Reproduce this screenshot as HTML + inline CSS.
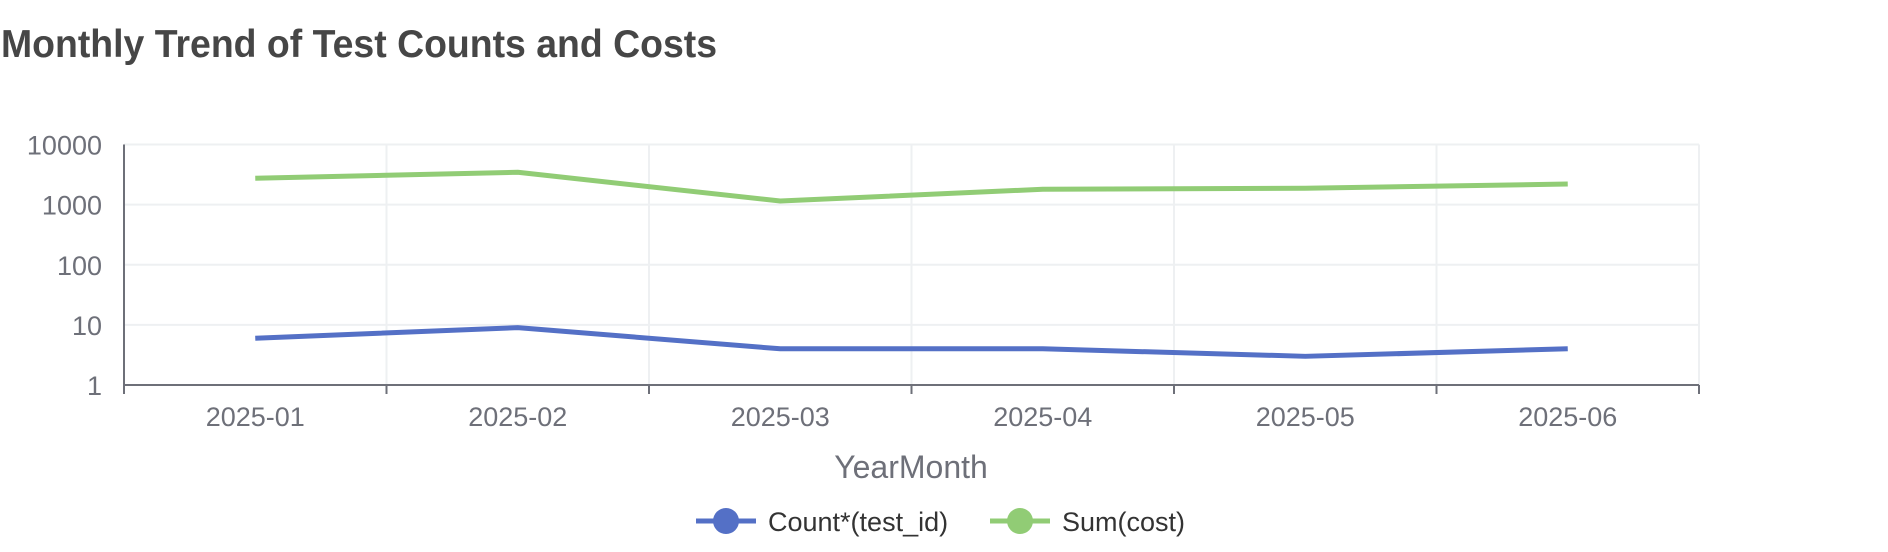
<!DOCTYPE html>
<html><head><meta charset="utf-8"><style>
body{margin:0;background:#fff;}
svg{display:block;font-family:"Liberation Sans",sans-serif;}
</style></head><body>
<svg id="chart" width="1888" height="552" viewBox="0 0 1888 552">
<text x="1" y="57" font-size="39" font-weight="bold" fill="#464646" textLength="716" lengthAdjust="spacingAndGlyphs">Monthly Trend of Test Counts and Costs</text>
<g id="grid"></g><g id="axes"></g><g id="series"></g>
<text x="911" y="478" font-size="32" fill="#6e7079" text-anchor="middle">YearMonth</text>
<g>
<line x1="696" y1="521" x2="756" y2="521" stroke="#5470c6" stroke-width="5"/>
<circle cx="726" cy="521" r="13" fill="#5470c6"/>
<text x="768" y="531" font-size="27" fill="#333">Count*(test_id)</text></g>
<g>
<line x1="990" y1="521" x2="1050" y2="521" stroke="#91cc75" stroke-width="5"/>
<circle cx="1020" cy="521" r="13" fill="#91cc75"/>
<text x="1062" y="531" font-size="27" fill="#333">Sum(cost)</text></g>
</svg>
<script>
const categories=["2025-01","2025-02","2025-03","2025-04","2025-05","2025-06"];
const countValues=[6,9,4,4,3,4];
const costValues=[2750,3450,1150,1800,1870,2200];
const yTicks=[1,10,100,1000,10000];
const NS="http://www.w3.org/2000/svg";
const L=124,R=1699,T=144.5,B=385;
const bw=(R-L)/categories.length;
const xS=i=>L+bw*(i+0.5);
const yS=v=>B-(Math.log10(v)/4)*(B-T);
function mk(tag,attrs,parent,txt){const e=document.createElementNS(NS,tag);for(const k in attrs)e.setAttribute(k,attrs[k]);if(txt!==undefined)e.textContent=txt;document.getElementById(parent).appendChild(e);return e;}
yTicks.forEach(t=>{
 const g=mk('line',{x1:L,x2:R,y1:yS(t),y2:yS(t),stroke:'#eef0f2','stroke-width':2},'grid');
 
 
 const tl=mk('text',{x:102,y:yS(t)+10,'font-size':27,fill:'#6e7079','text-anchor':'end'},'axes',String(t));
 
 
});
for(let i=1;i<=categories.length;i++){
 const g=mk('line',{x1:L+bw*i,x2:L+bw*i,y1:T,y2:B,stroke:'#eef0f2','stroke-width':2},'grid');
 
 
}
const ya=mk('line',{x1:L,x2:L,y1:T,y2:B+9,stroke:'#6e7079','stroke-width':2},'axes');


const xa=mk('line',{x1:L,x2:R,y1:B,y2:B,stroke:'#6e7079','stroke-width':2},'axes');


for(let i=0;i<=categories.length;i++){
 const tk=mk('line',{x1:L+bw*i,x2:L+bw*i,y1:B,y2:B+9,stroke:'#6e7079','stroke-width':2},'axes');
 
 
}
categories.forEach((c,i)=>{
 const t=mk('text',{x:xS(i),y:426,'font-size':27,fill:'#6e7079','text-anchor':'middle'},'axes',c);
 
 
});
function line(vals,color,name){
 const p=mk('polyline',{points:vals.map((v,i)=>xS(i)+','+yS(v)).join(' '),fill:'none',stroke:color,'stroke-width':5,'stroke-linejoin':'round'},'series');
 
 
}
line(costValues,'#91cc75','sum-cost-line');
line(countValues,'#5470c6','count-test-id-line');
</script>
</body></html>
